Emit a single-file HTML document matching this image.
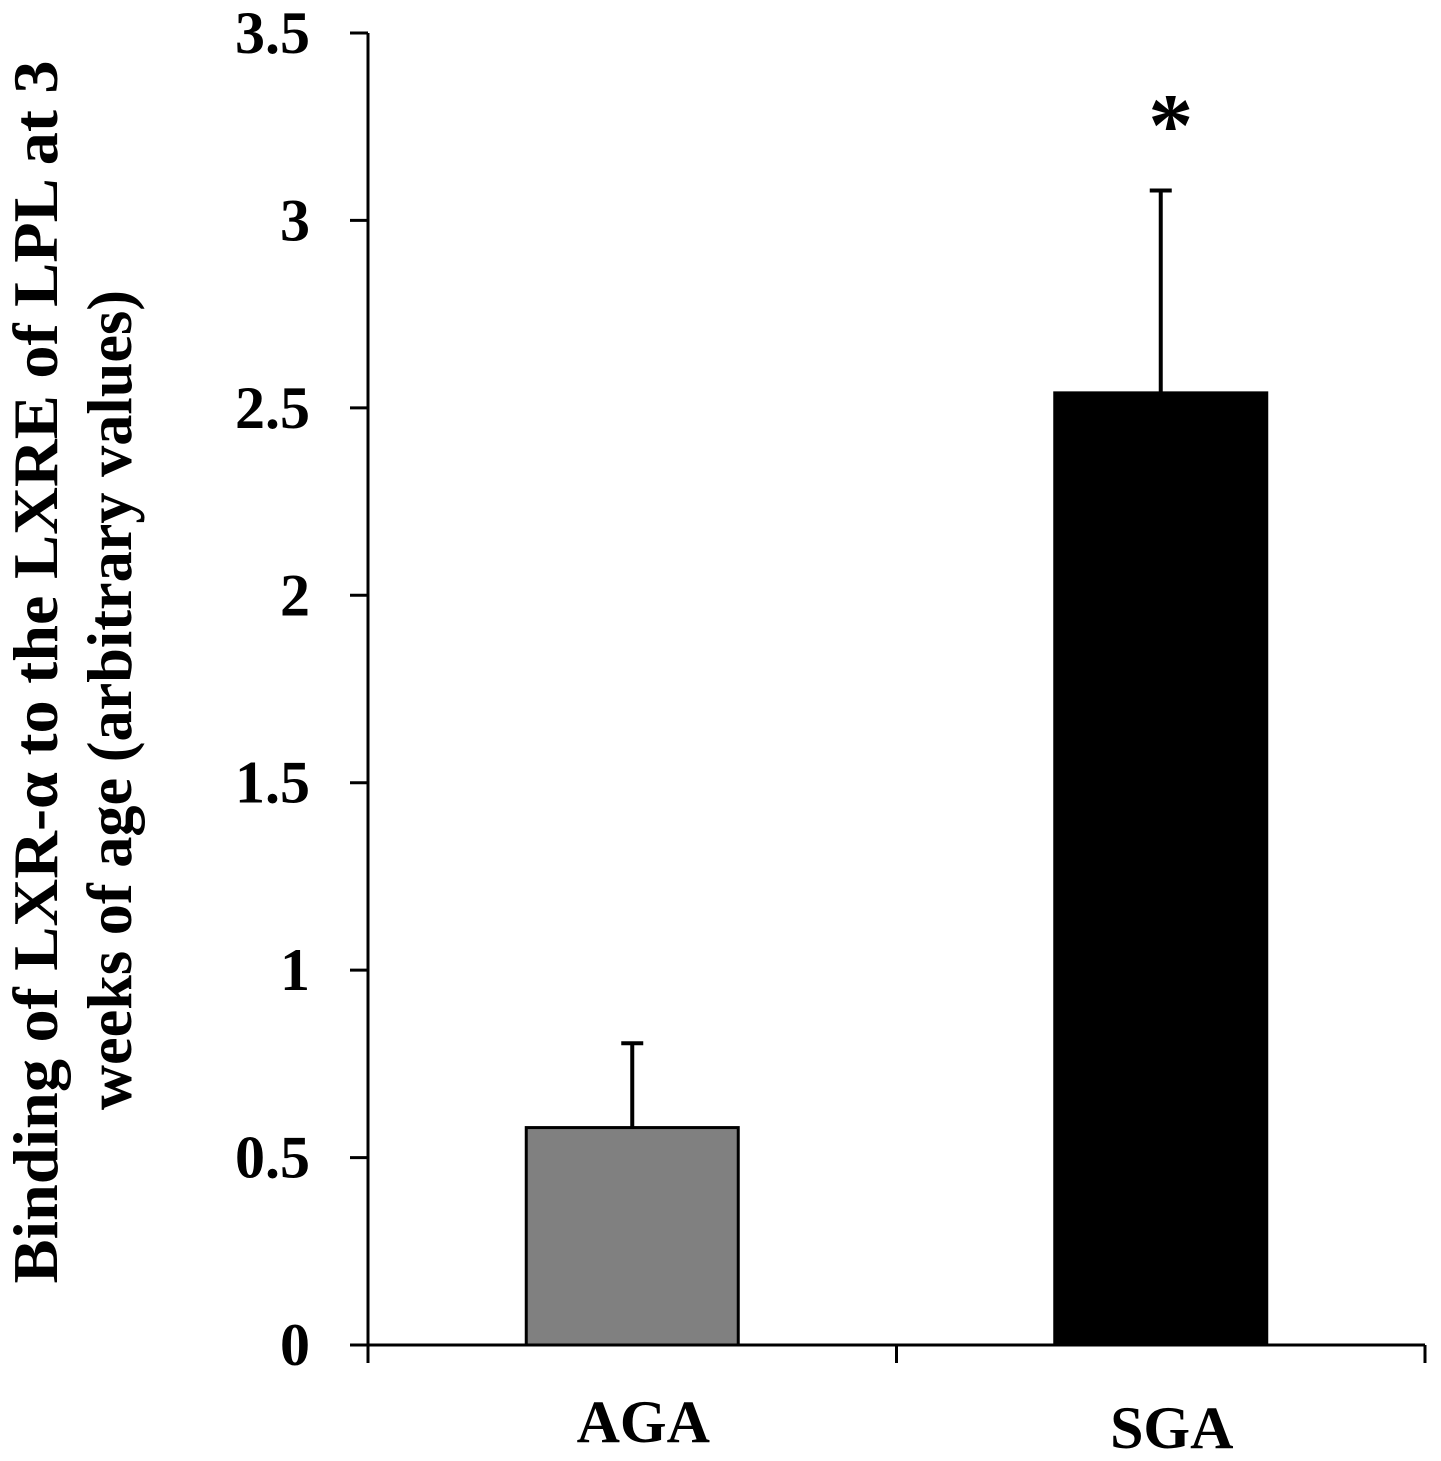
<!DOCTYPE html>
<html><head><meta charset="utf-8"><style>
html,body{margin:0;padding:0;background:#fff;}
svg{display:block;}
text{font-family:"Liberation Serif",serif;font-weight:bold;fill:#000;}
</style></head><body>
<svg id="chart" width="1441" height="1461" viewBox="0 0 1441 1461"></svg>
<script>
const categories = ["AGA","SGA"];
const values = [0.58, 2.54];
const errors = [0.225, 0.54];
const colors = ["#808080","#000000"];
const yTicks = [0,0.5,1,1.5,2,2.5,3,3.5];
const yTickLabels = ["0","0.5","1","1.5","2","2.5","3","3.5"];
const sigMarks = ["", "*"];

const svg = document.getElementById('chart');
const NS = 'http://www.w3.org/2000/svg';
const x0 = 368, x1 = 1425, yBase = 1345, yTop = 33, yMax = 3.5;
function y(v){ return yBase - v/yMax*(yBase-yTop); }
const band = (x1-x0)/categories.length;
function xc(i){ return x0 + band*(i+0.5); }
const barW = 212;
function mk(tag, attrs, txt){ const e=document.createElementNS(NS,tag); for(const k in attrs) e.setAttribute(k,attrs[k]); if(txt!==undefined) e.textContent=txt; svg.appendChild(e); return e; }

yTicks.forEach((t,i)=>{
  const l = mk('line',{x1:350,x2:x0,y1:y(t),y2:y(t),stroke:'#000','stroke-width':3});
  
  
  const tx = mk('text',{x:310,y:y(t)+20,'text-anchor':'end','font-size':60},yTickLabels[i]);
  
  
});

categories.forEach((c,i)=>{
  const cx = xc(i);
  const eb = mk('line',{x1:cx,x2:cx,y1:y(values[i]),y2:y(values[i]+errors[i]),stroke:'#000','stroke-width':4});
  
  
  const cap = mk('line',{x1:cx-11,x2:cx+11,y1:y(values[i]+errors[i]),y2:y(values[i]+errors[i]),stroke:'#000','stroke-width':4});
  
  
  const r = mk('rect',{x:cx-barW/2,y:y(values[i]),width:barW,height:yBase-y(values[i]),fill:colors[i],stroke:'#000','stroke-width':3});
  
  
  const lb = mk('text',{x:cx+11,y:1442+i*6,'text-anchor':'middle','font-size':60},c);
  
  
  if(sigMarks[i]){
    const s = mk('text',{x:cx+10,y:y(values[i]+errors[i])-35,'text-anchor':'middle','font-size':90},sigMarks[i]);
    
    
  }
});

const ya = mk('line',{x1:x0,x2:x0,y1:yTop,y2:yBase,stroke:'#000','stroke-width':3});


const xa = mk('line',{x1:350,x2:x1,y1:yBase,y2:yBase,stroke:'#000','stroke-width':3});


for(let i=0;i<=categories.length;i++){
  const xx = x0+band*i;
  const t = mk('line',{x1:xx,x2:xx,y1:yBase,y2:yBase+18,stroke:'#000','stroke-width':3});
  
  
}

const t1 = mk('text',{transform:'translate(57,672) rotate(-90)','text-anchor':'middle','font-size':64,textLength:1223,lengthAdjust:'spacingAndGlyphs'},'Binding of LXR-\u03B1 to the LXRE of LPL at 3');


const t2 = mk('text',{transform:'translate(131,700) rotate(-90)','text-anchor':'middle','font-size':64,textLength:820,lengthAdjust:'spacingAndGlyphs'},'weeks of age (arbitrary values)');


</script>
</body></html>
